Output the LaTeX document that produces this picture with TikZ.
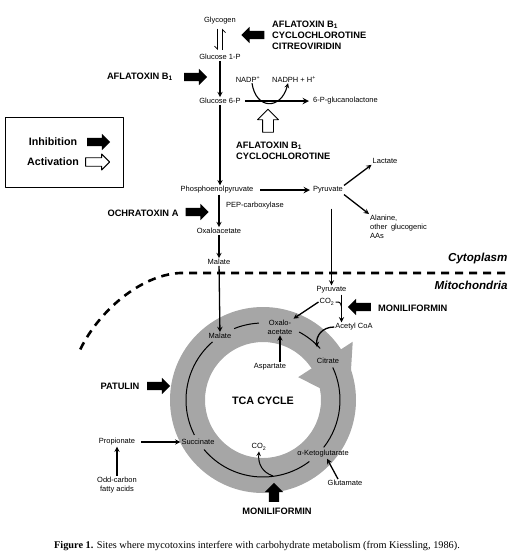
\documentclass[tikz,border=0pt]{standalone}
\usepackage{fontspec}
\setmainfont{Liberation Sans}
\newfontfamily\capfont{Liberation Serif}
\usetikzlibrary{shapes.arrows,arrows.meta}
\definecolor{ringgray}{gray}{0.65}
\begin{document}
\begin{tikzpicture}[x=1pt, y=-1pt, line join=round, >=stealth,
	lbl/.style={font=\fontsize{7.5}{8.8}\selectfont, inner sep=1pt, align=center},
	tox/.style={font=\fontsize{9.3}{11}\selectfont\bfseries, inner sep=1pt, align=left},
	inhib/.style={single arrow, fill=black, inner sep=4pt, minimum width=16pt, minimum height=23pt, single arrow head extend=4pt},
	activ/.style={inhib, draw=black, fill=white, line width=0.9pt},
	flow/.style={line width=1.3pt},
	flowb/.style={line width=1.8pt},
	cyc/.style={line width=1pt},
	harp/.style={line width=0.8pt, -{Straight Barb[harpoon,swap,length=3pt,width=6pt]}, shorten <=3pt, shorten >=3pt}]
	\useasboundingbox (0,0) rectangle (520,558);
	\def\Rout{93pt} \def\Rin{58pt} \def\Rmid{77pt}
	% TCA ring
	\coordinate (tc) at (263,400);
	\fill[ringgray, even odd rule] (tc) circle[radius=\Rout] (tc) circle[radius=\Rin];
	\fill[ringgray] ([shift={(33:107pt)}]tc) -- ([shift={(33:42pt)}]tc) -- ([shift={(-2:86pt)}]tc) -- cycle;
	\foreach \a/\b in {112/93, 62/42, 25/-38, -53/-140, -153/-229}
		\draw[cyc] ([shift={(\a:\Rmid)}]tc) arc[start angle=\a, end angle=\b, radius=\Rmid];
	% legend
	\draw[line width=0.8pt] (5,117) rectangle (123,187);
	\node[font=\fontsize{10.7}{12}\selectfont\bfseries] (inh) at (53,142) {Inhibition};
	\node[inhib] (inharr) at (96.5,142) {};
	\node[font=\fontsize{10.7}{12}\selectfont\bfseries] (act) at (53,162) {Activation};
	\node[activ, inner sep=3.5pt, single arrow head extend=3.5pt, minimum height=24pt] (actarr) at (95.5,162) {};
	% glycolysis column
	\node[lbl] (glycogen) at (220,21) {Glycogen};
	\node[lbl] (g1p) at (220,57) {Glucose 1-P};
	\node[lbl] (g6p) at (220,101) {Glucose 6-P};
	\node[lbl] (nadp) at (248,79) {NADP\textsuperscript{+}};
	\node[lbl] (nadph) at (294,79) {NADPH + H\textsuperscript{+}};
	\node[lbl, anchor=west] (lactone) at (312,101) {6-P-glucanolactone};
	\node[lbl] (pep) at (217,190) {Phosphoenolpyruvate};
	\node[lbl, anchor=west] (pepc) at (225,206) {PEP-carboxylase};
	\node[lbl] (oaa) at (219,231) {Oxaloacetate};
	\node[lbl] (malc) at (219,262) {Malate};
	\node[lbl] (pyr) at (328,190) {Pyruvate};
	\node[lbl] (lactate) at (385,161) {Lactate};
	\node[lbl, anchor=north west, align=left] (ala) at (369,214) {Alanine,\\other\enspace glucogenic\\AAs};
	\node[font=\fontsize{11.6}{13}\selectfont\bfseries\itshape, anchor=east] (cyto) at (511,258) {Cytoplasm};
	\node[font=\fontsize{11.6}{13}\selectfont\bfseries\itshape, anchor=east] (mito) at (511,285) {Mitochondria};
	% toxins
	\node[tox, anchor=west] (tox1) at (271,35) {AFLATOXIN B\textsubscript{1}\\CYCLOCHLOROTINE\\CITREOVIRIDIN};
	\node[inhib, shape border rotate=180] (inh1) at (255,35) {};
	\node[tox, anchor=east] (tox2) at (174,77) {AFLATOXIN B\textsubscript{1}};
	\node[inhib] (inh2) at (193.5,77) {};
	\node[activ, shape border rotate=90, inner sep=5pt, minimum width=20pt, single arrow head extend=5pt] (act1) at (268,123.5) {};
	\node[tox, anchor=west] (tox3) at (235,150.5) {AFLATOXIN B\textsubscript{1}\\CYCLOCHLOROTINE};
	\node[tox] (ochra) at (143,213) {OCHRATOXIN A};
	\node[inhib] (inh3) at (195,212) {};
	\node[tox] (patulin) at (120,386) {PATULIN};
	\node[inhib] (inh4) at (156.5,386) {};
	\node[tox, anchor=west] (moni1) at (377,308) {MONILIFORMIN};
	\node[inhib, shape border rotate=180] (inh5) at (361.5,307) {};
	\node[tox] (moni2) at (277,511) {MONILIFORMIN};
	\node[inhib, shape border rotate=90, inner sep=5pt, minimum height=19pt, minimum width=18pt] (inh6) at (274,495) {};
	% ring labels
	\node[lbl] (malm) at (220,336) {Malate};
	\node[lbl] (oxm) at (280,327) {Oxalo-\\acetate};
	\node[lbl] (citrate) at (328,361) {Citrate};
	\node[lbl] (asp) at (270,367) {Aspartate};
	\node[font=\fontsize{10.8}{12}\selectfont\bfseries] (tca) at (263,401) {TCA CYCLE};
	\node[lbl] (akg) at (323,454) {α-Ketoglutarate};
	\node[lbl] (glu) at (345,483) {Glutamate};
	\node[lbl] (co2b) at (259,447) {CO\textsubscript{2}};
	\node[lbl] (succ) at (198,442) {Succinate};
	\node[lbl] (prop) at (117,442) {Propionate};
	\node[lbl] (odd) at (117,485) {Odd-carbon\\fatty acids};
	\node[lbl] (pyrm) at (331.5,290) {Pyruvate};
	\node[lbl] (co2a) at (327,302) {CO\textsubscript{2}};
	\node[lbl] (acoa) at (354,327) {Acetyl CoA};
	\coordinate (citin) at (317,347);
	\coordinate (cbr) at (273,476);
	% membrane
	\draw[line width=2.6pt, dash pattern=on 8pt off 6pt] (505,273) -- (180,273) .. controls (140,275) and (98,312) .. (80,350);
	% connectors
	\draw[harp] ([xshift=-2.5pt]glycogen.south) -- ([xshift=-2.5pt]g1p.north);
	\draw[harp] ([xshift=2.5pt]g1p.north) -- ([xshift=2.5pt]glycogen.south);
	\draw[flow,->] (g1p) -- (g6p);
	\draw[flow,->] (g6p) -- (g6p |- pep.north);
	\draw[flow,->] (pep.south -| oaa) -- (oaa);
	\draw[flow,->] (oaa) -- (malc);
	\draw[flow,->] (malc) -- (malm);
	\draw[flowb,->, shorten <=3pt, shorten >=3pt] (g6p) -- (lactone);
	\draw[line width=1.1pt,->] ([xshift=4pt]nadp.south) .. controls (256,110) and (281,110) .. ([xshift=-6pt]nadph.south);
	\draw[flowb,->, shorten <=6pt, shorten >=2pt] (pep) -- (pyr);
	\draw[flow,->] (pyr.north east) -- (lactate.south west);
	\draw[flow,->] (pyr.south east) -- (ala.north west);
	\draw[flow,->, shorten <=14pt] (pyr.south -| pyrm) -- (pyrm);
	\draw[flow,->] (co2a.west) -- (oxm.north east);
	\draw[flow,->] ([xshift=10pt]pyrm.south) -- ([xshift=10pt]pyrm.south |- acoa.north);
	\draw[cyc] (co2a.east) .. controls (340,302) .. ([xshift=10pt]pyrm.south |- co2a.south);
	\draw[flow,->] (acoa.west) .. controls (322,327) and (316,336) .. (citin);
	\draw[flow,->] (oxm |- asp.north) -- (oxm.south);
	\draw[flow,->] ([xshift=-7pt]glu.north) -- ([xshift=4pt]akg.south);
	\draw[cyc,->] (cbr) .. controls (262,472) and (258,464) .. (co2b.south);
	\draw[flow,->, shorten <=5pt] (prop) -- (succ);
	\draw[flow,->] (odd) -- (prop);
	% caption
	\node[font=\capfont\fontsize{10.3}{12}\selectfont] (cap) at (257,546) {\textbf{Figure 1.} Sites where mycotoxins interfere with carbohydrate metabolism (from Kiessling, 1986).};
\end{tikzpicture}
\end{document}
